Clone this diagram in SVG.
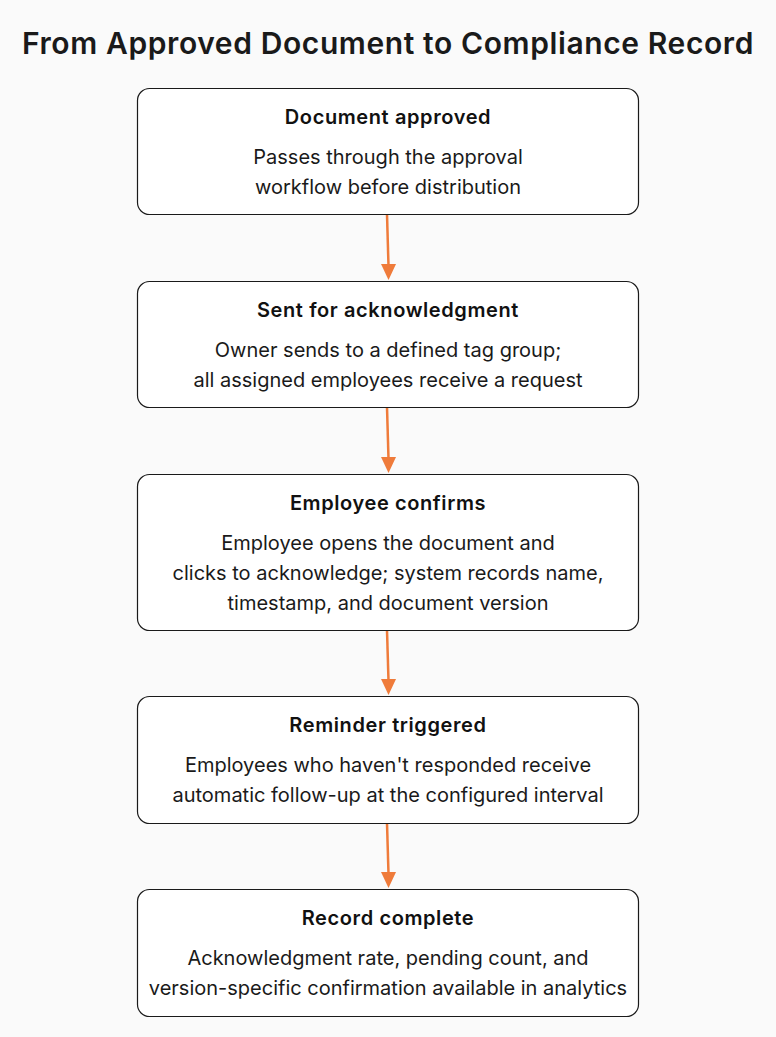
<svg xmlns="http://www.w3.org/2000/svg" width="776" height="1037" viewBox="0 0 776 1037">
<defs>
<style>
.box{fill:#ffffff;stroke:#1a1a1a;stroke-width:1.2}
.h{font-family:Inter,"Liberation Sans",sans-serif;font-weight:600;font-size:20px;letter-spacing:0.6px;fill:#111;text-anchor:middle}
.b{font-family:Inter,"Liberation Sans",sans-serif;font-size:20px;fill:#1a1a1a;text-anchor:middle}
.t{font-family:Inter,"Liberation Sans",sans-serif;font-weight:600;font-size:30px;letter-spacing:0.6px;fill:#1a1a1a;text-anchor:middle}
.c{stroke:#ef7b3a;stroke-width:2.5;fill:none}
</style>
</defs>
<rect width="776" height="1037" fill="#fafafa"/>
<text class="t" x="388" y="54">From Approved Document to Compliance Record</text>
<g id="connectors">
<line class="c" x1="387" y1="214" x2="388.5" y2="266"/>
<path d="M381,264 L396,264 L388.5,280 z" fill="#ef7b3a"/>
<line class="c" x1="387" y1="407" x2="388.5" y2="459"/>
<path d="M381,457 L396,457 L388.5,473 z" fill="#ef7b3a"/>
<line class="c" x1="387" y1="630" x2="388.5" y2="681"/>
<path d="M381,679 L396,679 L388.5,695 z" fill="#ef7b3a"/>
<line class="c" x1="387" y1="823" x2="388.5" y2="874"/>
<path d="M381,872 L396,872 L388.5,888 z" fill="#ef7b3a"/>
</g>
<g id="n1">
<rect class="box" x="137.5" y="88.5" width="501" height="126" rx="12"/>
<text class="h" x="388" y="124">Document approved</text>
<text class="b" x="388" y="164">Passes through the approval</text>
<text class="b" x="388" y="194">workflow before distribution</text>
</g>
<g id="n2">
<rect class="box" x="137.5" y="281.5" width="501" height="126" rx="12"/>
<text class="h" x="388" y="317">Sent for acknowledgment</text>
<text class="b" x="388" y="357">Owner sends to a defined tag group;</text>
<text class="b" x="388" y="387">all assigned employees receive a request</text>
</g>
<g id="n3">
<rect class="box" x="137.5" y="474.5" width="501" height="156" rx="12"/>
<text class="h" x="388" y="510">Employee confirms</text>
<text class="b" x="388" y="550">Employee opens the document and</text>
<text class="b" x="388" y="580">clicks to acknowledge; system records name,</text>
<text class="b" x="388" y="610">timestamp, and document version</text>
</g>
<g id="n4">
<rect class="box" x="137.5" y="696.5" width="501" height="127" rx="12"/>
<text class="h" x="388" y="732">Reminder triggered</text>
<text class="b" x="388" y="772">Employees who haven't responded receive</text>
<text class="b" x="388" y="802">automatic follow-up at the configured interval</text>
</g>
<g id="n5">
<rect class="box" x="137.5" y="889.5" width="501" height="127" rx="12"/>
<text class="h" x="388" y="925">Record complete</text>
<text class="b" x="388" y="965">Acknowledgment rate, pending count, and</text>
<text class="b" x="388" y="995">version-specific confirmation available in analytics</text>
</g>
</svg>
